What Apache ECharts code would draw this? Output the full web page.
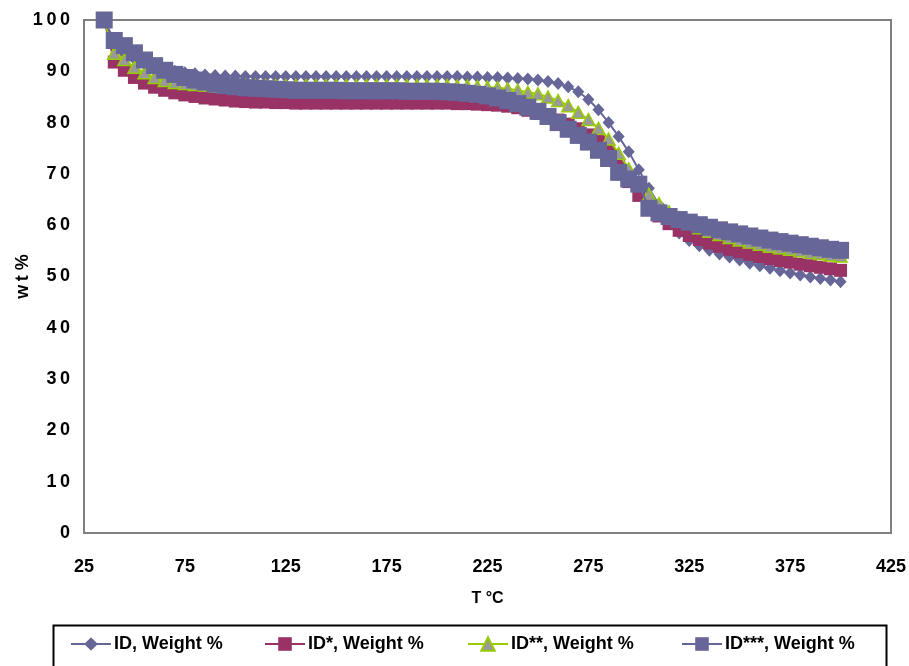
<!DOCTYPE html>
<html>
<head>
<meta charset="utf-8">
<script src="https://cdn.jsdelivr.net/npm/echarts@6/dist/echarts.min.js"></script>
<style>html,body{margin:0;padding:0;background:#fff;}#c{width:909px;height:666px;}</style>
</head>
<body>
<div id="c"></div>
<script>
var temps = [35,40,45,50,55,60,65,70,75,80,85,90,95,100,105,110,115,120,125,130,135,140,145,150,155,160,165,170,175,180,185,190,195,200,205,210,215,220,225,230,235,240,245,250,255,260,265,270,275,280,285,290,295,300,305,310,315,320,325,330,335,340,345,350,355,360,365,370,375,380,385,390,395,400];

var idVals = [100,95,93.5,92.4,91.5,90.9,90.4,90,89.7,89.5,89.3,89.2,89.1,89.1,89,89,89,89,89,89,89,89,89,89,89,89,89,89,89,89,89,89,89,89,89,89,88.9,88.9,88.8,88.8,88.7,88.6,88.5,88.3,88,87.6,87,86,84.5,82.5,80,77.3,74.3,70.8,67.2,64,61,58.5,57,56,55.1,54.4,53.8,53.2,52.6,52.1,51.6,51.1,50.7,50.3,49.9,49.6,49.3,49];

var id1Vals = [100,91.8,90.2,88.8,87.7,86.9,86.3,85.8,85.4,85.1,84.8,84.6,84.4,84.2,84.1,84,84,83.9,83.9,83.8,83.8,83.8,83.8,83.8,83.8,83.8,83.8,83.8,83.8,83.8,83.8,83.8,83.8,83.8,83.8,83.7,83.7,83.6,83.5,83.4,83.2,82.9,82.4,81.8,81.2,80.5,79.7,78.8,77.6,76.3,74.5,71.5,68.5,65.8,63.5,61.8,60.3,59,58,57.2,56.5,55.9,55.3,54.8,54.3,53.9,53.5,53.1,52.8,52.4,52.1,51.8,51.5,51.2];

var id2Vals = [100,93.5,92.3,90.8,89.7,88.8,88.2,87.8,87.6,87.4,87.3,87.2,87.2,87.2,87.2,87.2,87.2,87.2,87.2,87.2,87.2,87.2,87.2,87.2,87.2,87.2,87.2,87.2,87.2,87.2,87.2,87.2,87.2,87.2,87.2,87.1,87.1,87,86.9,86.8,86.6,86.3,85.9,85.6,85,84.3,83.3,82,80.6,78.9,76.8,74,71,68,66,64.2,62.6,61.5,60.4,59.5,58.8,58.2,57.6,57.1,56.7,56.3,55.9,55.6,55.3,55,54.7,54.5,54.2,54];

var id3Vals = [100,96,95,93.6,92.2,91.1,90.2,89.4,88.8,88.3,87.9,87.5,87.2,87,86.8,86.7,86.6,86.5,86.4,86.3,86.3,86.3,86.3,86.3,86.2,86.2,86.2,86.2,86.2,86.2,86.1,86.1,86.1,86.1,86,85.9,85.7,85.5,85.2,84.8,84.3,83.7,83,82.2,81.2,80,78.7,77.5,76.2,74.6,73,70.3,69,68,63.3,62.4,61.7,61.1,60.6,60.1,59.6,59.1,58.7,58.3,57.9,57.5,57.1,56.8,56.5,56.2,55.9,55.6,55.3,55.1];

var seriesNames = ['ID, Weight %','ID*, Weight %','ID**, Weight %','ID***, Weight %'];
var xTicks = [25,75,125,175,225,275,325,375,425];
var yTicks = [0,10,20,30,40,50,60,70,80,90,100];

function pairs(vals){ return temps.map(function(t,i){ return [t, vals[i]]; }); }
function spaced(v){ return String(v).split('').join('\u2009'); }

var FONT = "'Liberation Sans Narrow','Arial Narrow','Liberation Sans',Arial,sans-serif";
var chart = echarts.init(document.getElementById('c'), null, {renderer:'canvas'});

function legendAt(name, left){
  return {
    data:[name], left:left, top:635, orient:'horizontal',
    itemWidth:40, itemHeight:17, itemGap:0, padding:0,
    textStyle:{fontFamily:FONT, fontWeight:'bold', fontSize:18, color:'#000', padding:[0,0,0,-2]}
  };
}

chart.setOption({
  animation:false,
  backgroundColor:'#fff',
  grid:{left:84, right:18, top:20, bottom:133, show:true, borderColor:'#808080', borderWidth:2, containLabel:false, outerBoundsMode:'none'},
  xAxis:{
    type:'value', min:xTicks[0], max:xTicks[xTicks.length-1], interval:50,
    name:'T °C', nameLocation:'middle', nameGap:58, nameMoveOverlap:false,
    nameTextStyle:{fontFamily:FONT, fontWeight:'bold', fontSize:16, color:'#000'},
    axisLine:{show:true, lineStyle:{color:'#808080', width:2}},
    axisTick:{show:false}, splitLine:{show:false},
    axisLabel:{fontFamily:FONT, fontWeight:'bold', fontSize:18, color:'#000', margin:25}
  },
  yAxis:{
    type:'value', min:yTicks[0], max:yTicks[yTicks.length-1], interval:10,
    name:'w\u2009t %', nameLocation:'middle', nameGap:52, nameRotate:90, nameMoveOverlap:false,
    nameTextStyle:{fontFamily:FONT, fontWeight:'bold', fontSize:18, color:'#000'},
    axisLine:{show:true, lineStyle:{color:'#808080', width:2}},
    axisTick:{show:false}, splitLine:{show:false},
    axisLabel:{fontFamily:FONT, fontWeight:'bold', fontSize:18, color:'#000', margin:14, formatter:spaced}
  },
  legend:[legendAt(seriesNames[0],70), legendAt(seriesNames[1],264), legendAt(seriesNames[2],467), legendAt(seriesNames[3],681)],
  graphic:[{type:'rect', left:51, top:623, shape:{width:833, height:60}, style:{fill:'none', stroke:'#000', lineWidth:2}, z:-1}],
  series:[
    {name:seriesNames[0], type:'line', data:pairs(idVals), symbol:'diamond', symbolSize:[12,13], z:2,
      lineStyle:{color:'#666699', width:2}, itemStyle:{color:'#666699', borderWidth:0}},
    {name:seriesNames[1], type:'line', data:pairs(id1Vals), symbol:'rect', symbolSize:13, z:3,
      lineStyle:{color:'#993366', width:2}, itemStyle:{color:'#993366', borderWidth:0}},
    {name:seriesNames[2], type:'line', data:pairs(id2Vals), symbol:'triangle', symbolSize:[13,12], z:4,
      lineStyle:{color:'#99CC00', width:2}, itemStyle:{color:'#999999', borderColor:'#99CC00', borderWidth:1.5}},
    {name:seriesNames[3], type:'line', data:pairs(id3Vals), symbol:'rect', symbolSize:17, z:5,
      lineStyle:{color:'#666699', width:2}, itemStyle:{color:'#666699', borderWidth:0}}
  ]
});
</script>
</body>
</html>
